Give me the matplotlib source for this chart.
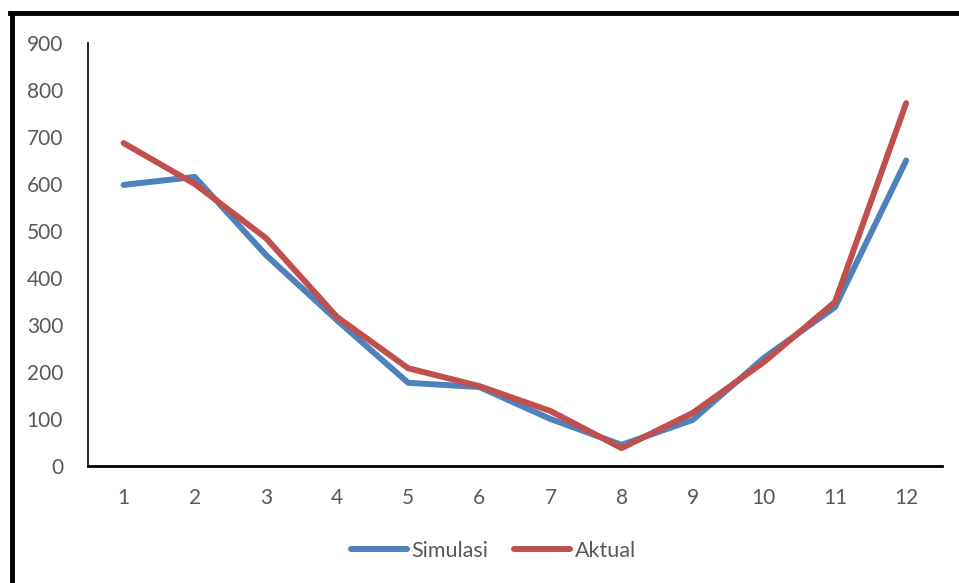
import matplotlib.pyplot as plt
from matplotlib.lines import Line2D

months = list(range(1, 13))
simulasi = [598, 615, 449, 310, 177, 168, 100, 45, 98, 230, 338, 650]
aktual = [687, 600, 485, 317, 208, 170, 117, 38, 113, 221, 349, 772]
yticks = [0, 100, 200, 300, 400, 500, 600, 700, 800, 900]

plt.rcParams['font.family'] = ['Lato', 'DejaVu Sans']

fig = plt.figure(figsize=(9.59, 5.83), dpi=100)
ax = fig.add_axes([0.0918, 0.2007, 0.8902, 0.7256])

ax.plot(months, simulasi, color='#4F81BD', lw=4.3, solid_capstyle='round',
        solid_joinstyle='round', label='Simulasi')
ax.plot(months, aktual, color='#C0504D', lw=4.3, solid_capstyle='round',
        solid_joinstyle='round', label='Aktual')

ax.set_xlim(0.5, 12.5)
ax.set_ylim(0, 900)
ax.set_xticks(months)
ax.set_yticks(yticks)
ax.tick_params(length=0, labelsize=15, colors='#595959', pad=16)
ax.tick_params(axis='y', pad=18)

for s in ['top', 'right']:
    ax.spines[s].set_visible(False)
ax.spines['left'].set_linewidth(1.2)
ax.spines['bottom'].set_linewidth(2)

ax.legend(loc='center', bbox_to_anchor=(0.475, -0.2), ncol=2, frameon=False,
          fontsize=15.5, handlelength=2.6, handletextpad=0.2, columnspacing=1.2,
          labelcolor='#595959')

# outer frame (only left and top edges fall inside the image)
fig.add_artist(Line2D([0.012, 0.012], [0, 0.977], color='black', lw=3.5,
                      transform=fig.transFigure))
fig.add_artist(Line2D([0.010, 1.0], [0.977, 0.977], color='black', lw=3.5,
                      transform=fig.transFigure))

fig.savefig('out.png', dpi=100)
